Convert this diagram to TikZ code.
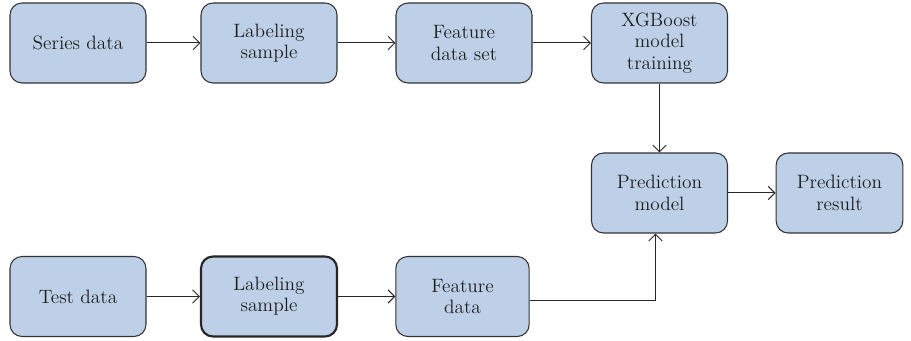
\documentclass[tikz,border=0pt]{standalone}
\usepackage{tikz}
\usetikzlibrary{arrows.meta}
\usetikzlibrary{positioning}

\definecolor{boxfill}{RGB}{190,208,232}
\definecolor{boxline}{RGB}{50,50,50}
\definecolor{txt}{RGB}{30,30,30}

\tikzset{
  box/.style={rectangle,rounded corners=9pt,draw=boxline,fill=boxfill,line width=0.8pt,
    minimum width=102pt,minimum height=60pt,align=center,text=txt,
    font=\fontsize{14.5}{16}\selectfont,inner sep=1pt},
  boldbox/.style={box,line width=1.6pt,draw=black!85},
  flow/.style={draw=black!85,line width=0.75pt,-{Straight Barb[length=5pt,width=10pt]}}
}

\begin{document}
\begin{tikzpicture}[x=0.75pt,y=-0.75pt]
\useasboundingbox (0,0) rectangle (911,341);

% upper chain
\node[box] (series) at (78,43) {Series data};
\node[box] (labtop) at (269,43) {Labeling\\sample};
\node[box] (featset) at (464,43) {Feature\\data set};
\node[box] (xgb) at (659.5,43) {XGBoost\\model\\training};

% prediction
\node[box] (predmodel) at (659.5,193) {Prediction\\model};
\node[box,minimum width=95pt] (predres) at (839.5,193) {Prediction\\result};

% lower chain
\node[box] (test) at (78,296.5) {Test data};
\node[boldbox] (labbot) at (269,296.5) {Labeling\\sample};
\node[box,minimum width=100pt] (featdata) at (462.5,296.5) {Feature\\data};

\draw[flow] (series) -- (labtop);
\draw[flow] (labtop) -- (featset);
\draw[flow] (featset) -- (xgb);
\draw[flow] (xgb) -- (predmodel);
\draw[flow] (predmodel) -- (predres);

\draw[flow] (test) -- (labbot);
\draw[flow] (labbot) -- (featdata);
\draw[flow] ([yshift=-3pt]featdata.east) -| ([xshift=-3pt]predmodel.south);

\end{tikzpicture}
\end{document}
